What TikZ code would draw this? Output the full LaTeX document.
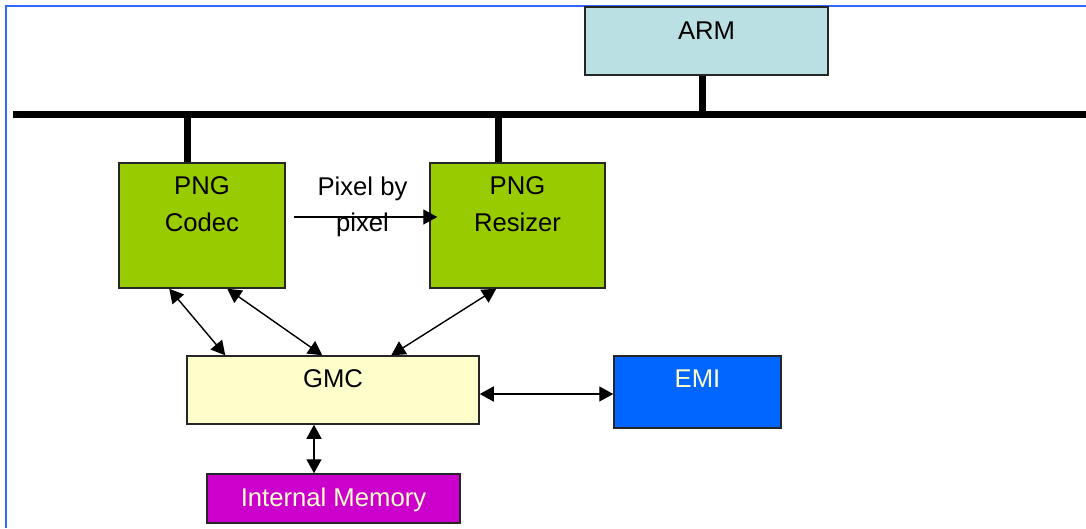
\documentclass[tikz,border=0pt]{standalone}
\usepackage{fontspec}
\setmainfont{Liberation Sans}
\usepackage{xcolor}
\usetikzlibrary{arrows.meta, positioning}
\definecolor{armCyan}{RGB}{187,224,227}
\definecolor{pngGreen}{RGB}{153,204,0}
\definecolor{gmcYellow}{RGB}{255,255,204}
\definecolor{emiBlue}{RGB}{0,102,255}
\definecolor{memMagenta}{RGB}{204,0,204}
\definecolor{frameBlue}{RGB}{51,102,255}

\begin{document}
\begin{tikzpicture}[
    block/.style={draw=black!85, line width=0.85pt, inner sep=0pt, align=center, text height=0.4cm, font=\fontsize{14.6}{20.5}\selectfont},
    bus/.style={line width=0.15cm, draw=black},
    tap/.style={line width=0.14cm, draw=black},
    link/.style={{Triangle[length=0.28cm,width=0.3cm]}-{Triangle[length=0.28cm,width=0.3cm]}, line width=0.8pt},
    flow/.style={-{Triangle[length=0.28cm,width=0.3cm]}, line width=0.8pt},
    note/.style={align=center, inner sep=0pt, font=\fontsize{14.6}{20.5}\selectfont}
]
    \useasboundingbox (0,0) rectangle (21.72,-10.56);
    \draw[frameBlue, line width=1.2pt] (0.12,-10.56) |- (21.72,-0.12);

    \node[block, fill=armCyan, minimum width=4.86cm, minimum height=1.36cm, text depth=0.48cm] (arm) at (14.13,-0.82) {ARM};
    \node[block, fill=pngGreen, minimum width=3.32cm, minimum height=2.5cm, text depth=0.18cm] (codec) at (4.04,-4.51) {PNG\\Codec};
    \node[block, fill=pngGreen, minimum width=3.5cm, minimum height=2.5cm, text depth=0.18cm] (resizer) at (10.35,-4.51) {PNG\\Resizer};
    \node[block, fill=gmcYellow, minimum width=5.84cm, minimum height=1.36cm, text depth=0.52cm] (gmc) at (6.66,-7.8) {GMC};
    \node[block, fill=emiBlue, text=gmcYellow, minimum width=3.34cm, minimum height=1.44cm, text depth=0.6cm] (emi) at (13.95,-7.84) {EMI};
    \node[block, fill=memMagenta, text=gmcYellow, minimum width=5.06cm, minimum height=0.98cm, text depth=0.1cm] (imem) at (6.67,-9.97) {Internal Memory};

    % system bus
    \coordinate (busL) at (0.26,-2.29);
    \coordinate (busR) at (21.72,-2.29);
    \draw[bus] (busL) -- (busR);
    \draw[tap] ([xshift=-0.09cm]arm.south) -- ([xshift=-0.09cm]arm.south |- busL);
    \draw[tap] ([xshift=-0.29cm]codec.north) -- ([xshift=-0.29cm]codec.north |- busL);
    \draw[tap] ([xshift=-0.39cm]resizer.north) -- ([xshift=-0.39cm]resizer.north |- busL);

    \draw[flow] ([xshift=0.16cm,yshift=0.17cm]codec.east) -- node[note, xshift=-0.06cm, yshift=0.21cm] (pix) {Pixel by\\pixel} ([xshift=0.16cm,yshift=0.17cm]resizer.west);

    \draw[link] ([xshift=1.02cm]codec.south west) -- ([xshift=0.78cm]gmc.north west);
    \draw[link] ([xshift=2.18cm]codec.south west) -- ([xshift=2.72cm]gmc.north west);
    \draw[link] ([xshift=1.34cm]resizer.south west) -- ([xshift=4.1cm]gmc.north west);
    \draw[link] ([yshift=-0.08cm]gmc.east) -- ([yshift=-0.08cm]gmc.east -| emi.west);
    \draw[link] ([xshift=-0.38cm]gmc.south) -- ([xshift=-0.38cm]gmc.south |- imem.north);
\end{tikzpicture}
\end{document}
